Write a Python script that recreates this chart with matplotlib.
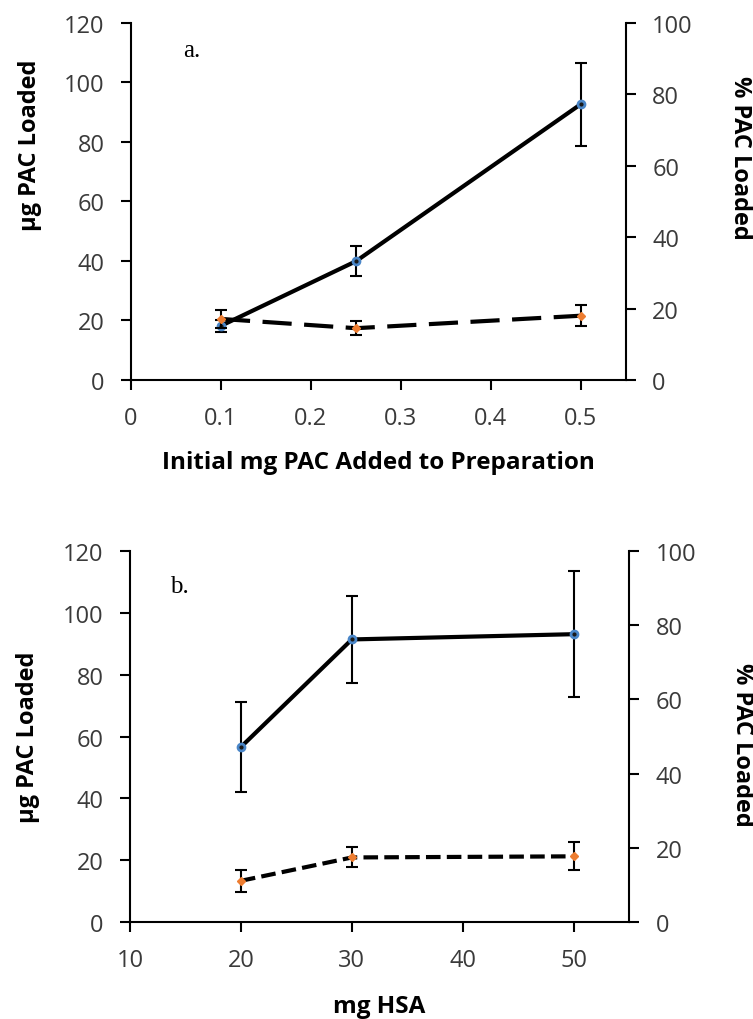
import matplotlib
matplotlib.use("Agg")
import matplotlib.pyplot as plt

plt.rcParams['font.family'] = ['Open Sans', 'DejaVu Sans']

# a. loading vs initial PAC added
pac_added = [0.1, 0.25, 0.5]
ug_loaded_a = [18.2, 39.9, 92.7]
ug_err_a = [2.0, 5.0, 14.0]
pct_loaded_a = [17.1, 14.5, 18.0]
pct_err_a = [2.5, 2.0, 3.0]

# b. loading vs HSA
hsa_mg = [20, 30, 50]
ug_loaded_b = [56.6, 91.4, 93.1]
ug_err_b = [14.5, 14.0, 20.4]
pct_loaded_b = [11.1, 17.4, 17.7]
pct_err_b = [3.0, 2.7, 3.8]

left_ticks = [0, 20, 40, 60, 80, 100, 120]
right_ticks = [0, 20, 40, 60, 80, 100]

BLUE = '#4a86c8'
ORANGE = '#ed7d31'
TICK_COLOR = '#3a3a3a'


def style_axes(ax, ax2):
    for a in (ax, ax2):
        a.spines['top'].set_visible(False)
        for s in ('left', 'right', 'bottom'):
            a.spines[s].set_linewidth(1.5)
        a.tick_params(length=7, width=1.5, labelsize=17, labelcolor=TICK_COLOR,
                      direction='out', pad=12)
    ax.spines['right'].set_visible(False)
    ax2.spines['left'].set_visible(False)
    ax2.spines['bottom'].set_visible(False)


def draw_panel(rect, x, ug, ug_err, pct, pct_err, xlim, xticks, xlabel, dash,
               tag, tag_pos, ylab_pos, ylab2_pos, xlab_y):
    fig = plt.gcf()
    ax = fig.add_axes(rect)
    ax2 = ax.twinx()

    ax.errorbar(x, ug, yerr=ug_err, color='black', lw=3, ecolor='black', elinewidth=1.5,
                capsize=4, capthick=1.5, marker='o', ms=6, mfc=BLUE, mec=BLUE, zorder=3)
    ax.plot(x, ug, 'o', ms=2, color='#1a1a1a', zorder=4)
    ax2.errorbar(x, pct, yerr=pct_err, color='black', lw=3, ls=dash, ecolor='black',
                 elinewidth=1.5, capsize=4, capthick=1.5, marker='D', ms=4.5, mfc=ORANGE,
                 mec=ORANGE, zorder=3)

    ax.set_xlim(*xlim)
    ax.set_ylim(0, 120)
    ax2.set_ylim(0, 100)
    ax.set_xticks(xticks)
    ax.set_xticklabels([f'{t:g}' for t in xticks])
    ax.set_yticks(left_ticks)
    ax2.set_yticks(right_ticks)
    style_axes(ax, ax2)

    ax.set_ylabel('µg PAC Loaded', fontsize=17, fontweight='bold', va='center')
    ax.yaxis.set_label_coords(*ylab_pos)
    ax2.set_ylabel('% PAC Loaded', fontsize=17, fontweight='bold', rotation=-90, va='center')
    ax2.yaxis.set_label_coords(*ylab2_pos)
    ax.set_xlabel(xlabel, fontsize=17.5, fontweight='bold', va='center')
    ax.xaxis.set_label_coords(0.5, xlab_y)
    ax.text(tag_pos[0], tag_pos[1], tag, transform=ax.transAxes, fontsize=18,
            family='Liberation Serif', ha='left', va='center')
    return ax, ax2


fig = plt.figure(figsize=(7.53, 10.2), dpi=100)

draw_panel([0.174, 0.6265, 0.657, 0.35], pac_added, ug_loaded_a, ug_err_a,
           pct_loaded_a, pct_err_a, (0, 0.55), [0, 0.1, 0.2, 0.3, 0.4, 0.5],
           'Initial mg PAC Added to Preparation', (0, (7, 3)),
           'a.', (0.105, 0.925), (-0.205, 0.66), (1.23, 0.625), -0.23)

draw_panel([0.1726, 0.0951, 0.663, 0.3637], hsa_mg, ug_loaded_b, ug_err_b,
           pct_loaded_b, pct_err_b, (10, 55), [10, 20, 30, 40, 50],
           'mg HSA', (0, (3.5, 1.5)),
           'b.', (0.08, 0.905), (-0.205, 0.5), (1.225, 0.48), -0.226)

fig.savefig('out.png', dpi=100)
